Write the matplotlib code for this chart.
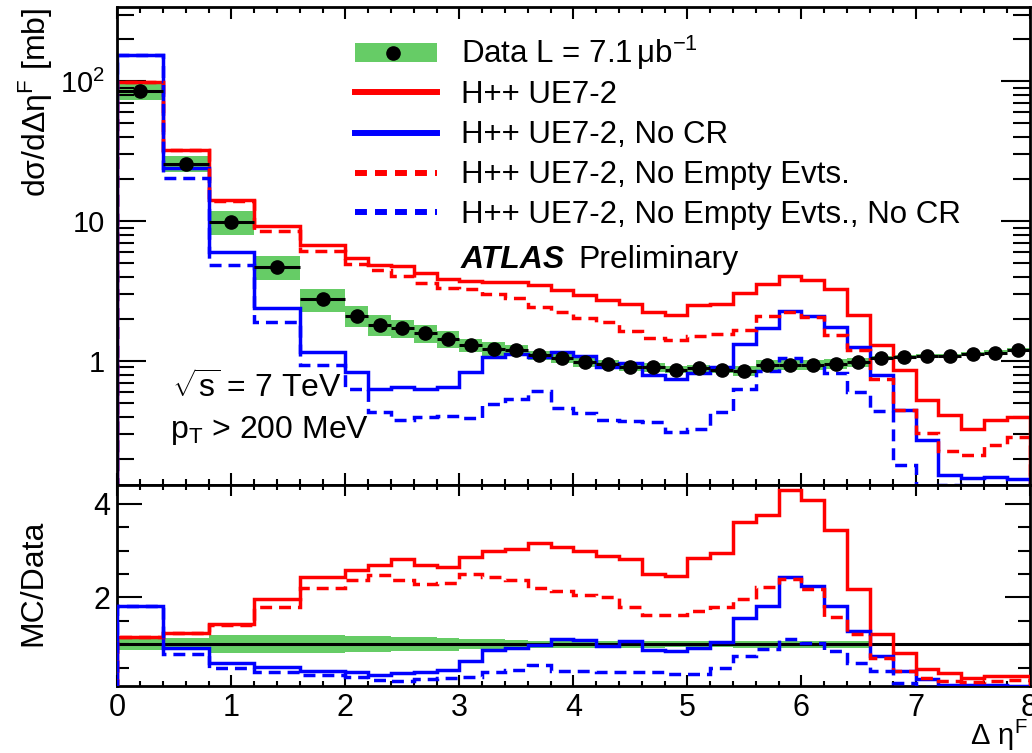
import matplotlib
import numpy as np

matplotlib.use('Agg')
import matplotlib.pyplot as plt
import matplotlib.ticker as mticker
from matplotlib.patches import Rectangle

_RED = '#ff0000'
_BLUE = '#0000ff'
_GREEN = '#66cc66'

plt.rcParams.update(
    {
        'font.family': 'Liberation Sans',
        'mathtext.fontset': 'custom',
        'mathtext.rm': 'Liberation Sans',
        'mathtext.it': 'Liberation Sans:italic',
        'mathtext.bf': 'Liberation Sans:bold',
        'lines.scale_dashes': False,
        'axes.linewidth': 2.0,
        'xtick.direction': 'in',
        'ytick.direction': 'in',
        'xtick.top': True,
        'ytick.right': True,
        'xtick.major.width': 1.5,
        'xtick.minor.width': 1.5,
        'ytick.major.width': 1.5,
        'ytick.minor.width': 1.5,
    }
)

# ── data ─────────────────────────────────────────────────────────────────────

bin_edges = [0.0, 0.4, 0.8, 1.2, 1.6, 2.0, 2.2, 2.4, 2.6, 2.8, 3.0, 3.2, 3.4, 3.6,
             3.8, 4.0, 4.2, 4.4, 4.6, 4.8, 5.0, 5.2, 5.4, 5.6, 5.8, 6.0, 6.2, 6.4,
             6.6, 6.8, 7.0, 7.2, 7.4, 7.6, 7.8, 8.0]

# d sigma / d delta eta [mb]
data_xsec = [85.0, 25.8, 9.9, 4.72, 2.76, 2.10, 1.81, 1.71, 1.58, 1.45, 1.30, 1.23,
             1.20, 1.10, 1.045, 0.99, 0.95, 0.91, 0.90, 0.87, 0.89, 0.87, 0.85, 0.94,
             0.94, 0.94, 0.96, 0.98, 1.055, 1.07, 1.09, 1.09, 1.13, 1.15, 1.20]

# relative total uncertainty (green band half-width)
data_rel_err = [0.13, 0.13, 0.19, 0.19, 0.19, 0.17, 0.17, 0.15, 0.15, 0.14, 0.11, 0.11,
                0.09, 0.08, 0.08, 0.08, 0.07, 0.07, 0.07, 0.06, 0.06, 0.06, 0.08, 0.08,
                0.08, 0.08, 0.08, 0.08, 0.035, 0.035, 0.035, 0.035, 0.035, 0.035, 0.035]

# MC / Data
ratio_ue72 = [1.16, 1.25, 1.43, 1.96, 2.44, 2.58, 2.69, 2.81, 2.70, 2.65, 2.87, 2.99,
              3.04, 3.16, 3.08, 2.99, 2.88, 2.82, 2.51, 2.46, 2.85, 2.94, 3.62, 3.77,
              4.30, 4.07, 3.43, 2.19, 1.23, 0.81, 0.48, 0.38, 0.29, 0.33, 0.33]
ratio_ue72_nocr = [1.82, 0.93, 0.61, 0.51, 0.42, 0.40, 0.35, 0.38, 0.40, 0.45, 0.64, 0.87,
                   0.93, 0.98, 1.12, 1.10, 0.96, 1.06, 0.88, 0.86, 0.92, 1.05, 1.57, 1.82,
                   2.44, 2.25, 1.82, 1.29, 0.75, 0.42, 0.25, 0.14, 0.13, 0.13, 0.12]
ratio_ue72_noempty = [1.16, 1.25, 1.42, 1.79, 2.21, 2.37, 2.48, 2.37, 2.28, 2.30, 2.51, 2.44,
                      2.37, 2.21, 2.13, 2.06, 2.01, 1.80, 1.62, 1.62, 1.70, 1.80, 1.96, 2.23,
                      2.40, 2.19, 1.59, 1.22, 0.70, 0.42, 0.28, 0.21, 0.19, 0.22, 0.24]
ratio_ue72_noempty_nocr = [1.82, 0.79, 0.49, 0.40, 0.34, 0.30, 0.24, 0.22, 0.25, 0.28, 0.30,
                           0.40, 0.45, 0.56, 0.44, 0.43, 0.40, 0.41, 0.41, 0.36, 0.37, 0.50,
                           0.74, 0.91, 1.11, 1.02, 0.86, 0.61, 0.42, 0.17, 0.09, 0.12, 0.09,
                           0.08, 0.09]

series = [
    ('H++ UE7-2', ratio_ue72, _RED, '-'),
    ('H++ UE7-2, No CR', ratio_ue72_nocr, _BLUE, '-'),
    ('H++ UE7-2, No Empty Evts.', ratio_ue72_noempty, _RED, '--'),
    ('H++ UE7-2, No Empty Evts., No CR', ratio_ue72_noempty_nocr, _BLUE, '--'),
]

_HIST_DASH = (0, (8.6, 5.0))
_LEG_DASH = (0, (8.6, 5.8))
_LEG_FS = 22.5
_TXT_FS = 23

# ── figure ───────────────────────────────────────────────────────────────────

edges = np.array(bin_edges)
centers = 0.5 * (edges[:-1] + edges[1:])
widths = np.diff(edges)
data = np.array(data_xsec)
rel = np.array(data_rel_err)

fig = plt.figure(figsize=(10.32, 7.53), dpi=100)
ax = fig.add_axes([0.1137, 0.3559, 0.8839, 0.6348])
axr = fig.add_axes([0.1137, 0.0890, 0.8839, 0.2669])

# upper panel
ax.bar(centers, 2 * rel * data, width=widths, bottom=data * (1 - rel),
       color=_GREEN, linewidth=0, zorder=1)
for label, ratio, color, ls in series:
    mc = np.array(ratio) * data
    ax.stairs(mc, edges, color=color, linewidth=2.5,
              linestyle=_HIST_DASH if ls == '--' else '-', zorder=2)
ax.errorbar(centers, data, xerr=widths / 2, fmt='o', color='k', ms=9.5,
            elinewidth=2.2, capsize=0, zorder=3)

ax.set_yscale('log')
ax.set_xlim(0, 8)
ax.set_ylim(0.13, 340)
ax.yaxis.set_major_locator(mticker.FixedLocator([1, 10, 100]))
ax.yaxis.set_major_formatter(mticker.FixedFormatter(['1', '10', r'$\mathregular{10^{2}}$']))
ax.yaxis.set_minor_locator(mticker.LogLocator(base=10, subs=np.arange(2, 10), numticks=20))
ax.yaxis.set_minor_formatter(mticker.NullFormatter())
ax.xaxis.set_major_locator(mticker.MultipleLocator(1))
ax.xaxis.set_minor_locator(mticker.MultipleLocator(0.2))
ax.tick_params(axis='x', labelbottom=False)
ax.tick_params(axis='x', which='major', length=8.5)
ax.tick_params(axis='x', which='minor', length=4.5)
ax.tick_params(axis='y', which='major', length=21, labelsize=21, pad=9)
ax.tick_params(axis='y', which='minor', length=12)

# legend, drawn by hand in ROOT style
tr = ax.transAxes
x0, x1, xt = 0.2606, 0.3505, 0.3768
row_y = [0.9044, 0.8215, 0.7370, 0.6533, 0.5705]
ax.add_patch(Rectangle((x0, row_y[0] - 0.0193), x1 - x0, 0.0386, transform=tr,
                       color=_GREEN, linewidth=0, zorder=4))
ax.plot([0.3026], [row_y[0]], 'o', color='k', ms=9.5, transform=tr, zorder=5)
ax.text(xt, row_y[0] - 0.0215, r'Data L = 7.1$\,$μb$^{\mathregular{-1}}$', transform=tr,
        fontsize=_LEG_FS, va='baseline')
for (label, ratio, color, ls), y in zip(series, row_y[1:]):
    ax.plot([x0, x1], [y, y], color=color, linewidth=4.3,
            linestyle=_LEG_DASH if ls == '--' else '-', transform=tr, zorder=4)
    ax.text(xt, y - 0.0215, label, transform=tr, fontsize=_LEG_FS, va='baseline')

ax.text(xt, 0.4533, 'ATLAS', transform=tr, fontsize=_TXT_FS, weight='bold', style='italic')
ax.text(0.5050, 0.4533, 'Preliminary', transform=tr, fontsize=_TXT_FS)
ax.text(0.060, 0.1814, r'$\sqrt{\mathregular{s}}$ = 7 TeV', transform=tr, fontsize=_TXT_FS)
ax.text(0.0578, 0.0977, r'p$_{\mathregular{T}}$ > 200 MeV', transform=tr, fontsize=_TXT_FS)

# ratio panel
axr.bar(centers, 2 * rel, width=widths, bottom=1 - rel, color=_GREEN, linewidth=0, zorder=1)
axr.axhline(1, color='k', linewidth=2.2, zorder=2)
for label, ratio, color, ls in series:
    axr.stairs(ratio, edges, color=color, linewidth=2.5,
               linestyle=_HIST_DASH if ls == '--' else '-', zorder=3)

axr.set_xlim(0, 8)
axr.set_ylim(0.11, 4.4)
axr.xaxis.set_major_locator(mticker.MultipleLocator(1))
axr.xaxis.set_minor_locator(mticker.MultipleLocator(0.2))
axr.yaxis.set_major_locator(mticker.FixedLocator([2, 4]))
axr.yaxis.set_minor_locator(mticker.MultipleLocator(0.5))
axr.tick_params(axis='x', which='major', length=8, labelsize=22, pad=5)
axr.tick_params(axis='x', which='minor', length=3.5)
axr.tick_params(axis='y', which='major', length=18, labelsize=22, pad=5)
axr.tick_params(axis='y', which='minor', length=8.6)

fig.text(36 / 1032, 1 - 8 / 753, r'dσ/dΔη$^{\mathregular{F}}$ [mb]', rotation=90,
         ha='center', va='top', fontsize=23)
fig.text(33 / 1032, 1 - 583 / 753, 'MC/Data', rotation=90, ha='center', va='center',
         fontsize=23)
fig.text(1028 / 1032, 1 - 745 / 753, r'Δ η$^{\mathregular{F}}$', ha='right', va='baseline',
         fontsize=21)

fig.savefig('out.png', dpi=100)
